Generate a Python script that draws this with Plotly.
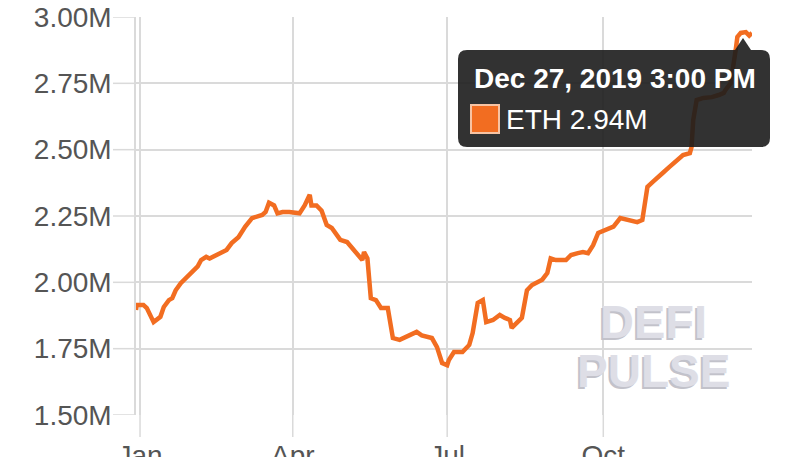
import plotly.graph_objects as go

dates = [
    "2018-12-29 15:00", "2018-12-30", "2019-01-03", "2019-01-05", "2019-01-09", "2019-01-13",
    "2019-01-15", "2019-01-18", "2019-01-20", "2019-01-22", "2019-01-25", "2019-01-27",
    "2019-01-31", "2019-02-04", "2019-02-06", "2019-02-09", "2019-02-11", "2019-02-15",
    "2019-02-21", "2019-02-24", "2019-02-28", "2019-03-04", "2019-03-08", "2019-03-14",
    "2019-03-16", "2019-03-18", "2019-03-21", "2019-03-23", "2019-03-26", "2019-03-30",
    "2019-04-03", "2019-04-05", "2019-04-08", "2019-04-11", "2019-04-12", "2019-04-15",
    "2019-04-18", "2019-04-21", "2019-04-24", "2019-04-29", "2019-05-03", "2019-05-06",
    "2019-05-10", "2019-05-12", "2019-05-13", "2019-05-15", "2019-05-17", "2019-05-20",
    "2019-05-23", "2019-05-27", "2019-05-30", "2019-06-03", "2019-06-13", "2019-06-16",
    "2019-06-22", "2019-06-25", "2019-06-28", "2019-07-01", "2019-07-02", "2019-07-05",
    "2019-07-10", "2019-07-14", "2019-07-16", "2019-07-19", "2019-07-22", "2019-07-24",
    "2019-07-28", "2019-08-01", "2019-08-04", "2019-08-07", "2019-08-08", "2019-08-11",
    "2019-08-14", "2019-08-17", "2019-08-20", "2019-08-26", "2019-08-29", "2019-08-31",
    "2019-09-03", "2019-09-09", "2019-09-12", "2019-09-16", "2019-09-19", "2019-09-22",
    "2019-09-25", "2019-09-28", "2019-10-03", "2019-10-07", "2019-10-11", "2019-10-15",
    "2019-10-21", "2019-10-24", "2019-10-27", "2019-10-30", "2019-11-02", "2019-11-05",
    "2019-11-09", "2019-11-13", "2019-11-17", "2019-11-21", "2019-11-22", "2019-11-23",
    "2019-11-25", "2019-11-29", "2019-12-04", "2019-12-08", "2019-12-11", "2019-12-12",
    "2019-12-15", "2019-12-18", "2019-12-19", "2019-12-21", "2019-12-24", "2019-12-26",
    "2019-12-27 15:00",
]

eth_millions = [
    1.896, 1.915, 1.915, 1.903, 1.850, 1.870,
    1.907, 1.933, 1.940, 1.970, 1.997, 2.010,
    2.040, 2.060, 2.084, 2.096, 2.090, 2.103,
    2.122, 2.148, 2.170, 2.210, 2.242, 2.254,
    2.265, 2.300, 2.290, 2.260, 2.265, 2.265,
    2.260, 2.260, 2.290, 2.330, 2.290, 2.290,
    2.270, 2.216, 2.205, 2.160, 2.152, 2.130,
    2.103, 2.084, 2.114, 2.090, 1.940, 1.933,
    1.903, 1.903, 1.790, 1.783, 1.813, 1.800,
    1.790, 1.756, 1.696, 1.688, 1.707, 1.737,
    1.737, 1.764, 1.809, 1.922, 1.933, 1.850,
    1.858, 1.877, 1.866, 1.858, 1.828, 1.850,
    1.866, 1.970, 1.990, 2.010, 2.035, 2.090,
    2.084, 2.084, 2.103, 2.110, 2.114, 2.110,
    2.140, 2.186, 2.197, 2.210, 2.242, 2.235,
    2.227, 2.235, 2.360, 2.378, 2.393, 2.412,
    2.435, 2.460, 2.480, 2.487, 2.510, 2.612,
    2.687, 2.695, 2.698, 2.706, 2.714, 2.725,
    2.750, 2.875, 2.925, 2.940, 2.943, 2.930,
    2.940,
]

y_tick_vals = [1.50, 1.75, 2.00, 2.25, 2.50, 2.75, 3.00]
y_tick_text = ["1.50M", "1.75M", "2.00M", "2.25M", "2.50M", "2.75M", "3.00M"]
x_tick_vals = ["2019-01-01", "2019-04-01", "2019-07-01", "2019-10-01"]
x_tick_text = ["Jan", "Apr", "Jul", "Oct"]

tooltip_title = "Dec 27, 2019 3:00 PM"
tooltip_series = "ETH 2.94M"

values = [v * 1e6 for v in eth_millions]
y_ticks_abs = [v * 1e6 for v in y_tick_vals]

ORANGE = "#f26d21"
GRID = "#dadada"
FONT = "Liberation Sans, Arial, sans-serif"

fig = go.Figure()
fig.add_trace(go.Scatter(
    x=dates, y=values, mode="lines",
    line=dict(color=ORANGE, width=4.5),
    hoverinfo="skip", showlegend=False,
))

W, H = 796, 457
L, T, R, B = 136, 17, 44, 42
pw, ph = W - L - R, H - T - B

def px(x):
    return (x - L) / pw

def py(y):
    return (H - B - y) / ph

shapes = []
# tick extensions (grid-coloured) below the x axis and left of the y axis
for tv in x_tick_vals:
    shapes.append(dict(type="line", xref="x", yref="paper", x0=tv, x1=tv,
                       y0=0, y1=-22 / ph, line=dict(color=GRID, width=1.5), layer="below"))
for tv in y_ticks_abs:
    shapes.append(dict(type="line", xref="paper", yref="y", x0=-23 / pw, x1=0,
                       y0=tv, y1=tv, line=dict(color=GRID, width=1.5), layer="below"))

# rounded tooltip box
x0, x1, y0, y1, r = 458, 770, 50, 147, 9
path = (
    f"M {px(x0 + r)},{py(y0)} L {px(x1 - r)},{py(y0)} "
    f"Q {px(x1)},{py(y0)} {px(x1)},{py(y0 + r)} "
    f"L {px(x1)},{py(y1 - r)} Q {px(x1)},{py(y1)} {px(x1 - r)},{py(y1)} "
    f"L {px(x0 + r)},{py(y1)} Q {px(x0)},{py(y1)} {px(x0)},{py(y1 - r)} "
    f"L {px(x0)},{py(y0 + r)} Q {px(x0)},{py(y0)} {px(x0 + r)},{py(y0)} Z"
)
shapes.append(dict(type="path", xref="paper", yref="paper", path=path,
                   fillcolor="rgba(28,28,28,0.9)", line=dict(width=0), layer="above"))
# pointer triangle
tri = f"M {px(735)},{py(50)} L {px(743)},{py(38)} L {px(751)},{py(50)} Z"
shapes.append(dict(type="path", xref="paper", yref="paper", path=tri,
                   fillcolor="rgba(28,28,28,0.9)", line=dict(width=0), layer="above"))
# colour swatch
shapes.append(dict(type="rect", xref="paper", yref="paper",
                   x0=px(471), x1=px(499), y0=py(133), y1=py(105),
                   fillcolor=ORANGE, line=dict(color="#f7c3a3", width=2), layer="above"))

annotations = [
    dict(xref="paper", yref="paper", x=px(472), y=py(78), xanchor="left", yanchor="middle",
         text=f"<b>{tooltip_title}</b>", showarrow=False,
         font=dict(family=FONT, size=28, color="white")),
    dict(xref="paper", yref="paper", x=px(504), y=py(120), xanchor="left", yanchor="middle",
         text=tooltip_series, showarrow=False,
         font=dict(family=FONT, size=28, color="white")),
    # watermark with 3D shadow
    dict(xref="paper", yref="paper", x=px(653), y=py(321),
         xanchor="center", yanchor="middle", text="<b>DEFI</b>", showarrow=False,
         font=dict(family=FONT, size=47, color="#dedee6",
                   shadow="-2px 2px 0px #c2c2ca")),
    dict(xref="paper", yref="paper", x=px(653), y=py(371),
         xanchor="center", yanchor="middle", text="<b>PULSE</b>", showarrow=False,
         font=dict(family=FONT, size=46, color="#dedee6",
                   shadow="-2px 2px 0px #c2c2ca")),
]

fig.update_layout(
    width=W, height=H,
    margin=dict(l=L, r=R, t=T, b=B, pad=0),
    paper_bgcolor="white", plot_bgcolor="white",
    font=dict(family=FONT, size=28, color="#555555"),
    shapes=shapes, annotations=annotations,
    hovermode=False,
)
fig.update_xaxes(
    type="date", range=["2018-12-29 15:00", "2019-12-27 15:00"],
    tickvals=x_tick_vals, ticktext=x_tick_text,
    showgrid=True, gridcolor=GRID, gridwidth=1.5,
    ticks="outside", ticklen=15, tickcolor="rgba(0,0,0,0)",
    showline=False, zeroline=False, automargin=False, ticklabeloverflow="allow",
)
fig.update_yaxes(
    range=[1.5e6, 3.0e6],
    tickvals=y_ticks_abs, ticktext=y_tick_text,
    showgrid=True, gridcolor=GRID, gridwidth=1.5,
    ticks="outside", ticklen=17, tickcolor="rgba(0,0,0,0)",
    showline=True, linecolor=GRID, linewidth=1.5, zeroline=False, automargin=False,
    ticklabeloverflow="allow",
)

fig.write_html("out.html", config={"displayModeBar": False},
               post_script="document.body.style.margin='0';")
